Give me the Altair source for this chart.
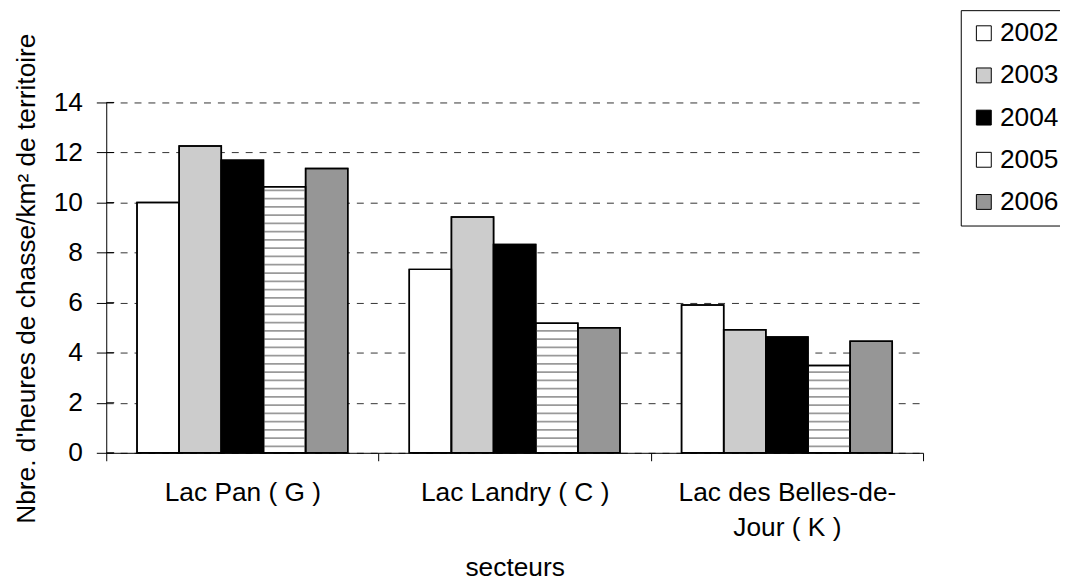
import altair as alt
import pandas as pd

categories = ["Lac Pan ( G )", "Lac Landry ( C )", "Lac des Belles-de-\nJour ( K )"]
years = ["2002", "2003", "2004", "2005", "2006"]
v2002 = [10.0, 7.33, 5.91]
v2003 = [12.26, 9.42, 4.92]
v2004 = [11.69, 8.32, 4.63]
v2005 = [10.63, 5.18, 3.49]
v2006 = [11.36, 5.0, 4.46]
y_ticks = [0, 2, 4, 6, 8, 10, 12, 14]
fills = ["#ffffff", "#cccccc", "#000000", "#ffffff", "#969696"]

series = [v2002, v2003, v2004, v2005, v2006]
rows = []
for yr, vals in zip(years, series):
    for c, v in zip(categories, vals):
        rows.append({"secteur": c, "annee": yr, "value": v})
df = pd.DataFrame(rows)
ticks_df = pd.DataFrame({"t": y_ticks})

FONT = "Liberation Sans"
FS = 26.5

x_enc = alt.X("secteur:N", sort=categories,
              scale=alt.Scale(paddingInner=0, paddingOuter=0),
              axis=alt.Axis(title="secteurs", tickBand="extent", tickSize=8,
                            labelPadding=19, labelLineHeight=35, labelLimit=0,
                            labelAngle=0, labelExpr="split(datum.label, '\\n')",
                            titleBaseline="alphabetic", titleY=124, grid=False))
xo_enc = alt.XOffset("annee:N", sort=years,
                     scale=alt.Scale(domain=years, paddingInner=0, paddingOuter=0.73))
y_enc = alt.Y("value:Q", scale=alt.Scale(domain=[0, 14], nice=False),
              axis=alt.Axis(values=y_ticks, title="Nbre. d'heures de chasse/km² de territoire",
                            tickSize=10, labelPadding=14, grid=True,
                            gridColor="#333333", gridDash=[7, 7], gridWidth=1,
                            titleBaseline="alphabetic", titleX=-72, titleY=177,
                            titleAngle=270, titleAlign="center"))

base = alt.Chart(df).mark_bar(stroke="black", strokeWidth=1.5).encode(
    x=x_enc, xOffset=xo_enc, y=y_enc,
    fill=alt.Fill("annee:N", sort=years,
                  scale=alt.Scale(domain=years, range=fills),
                  legend=alt.Legend(title=None, orient="none", legendX=861, legendY=-93,
                                    symbolType="square", symbolSize=225,
                                    symbolStrokeColor="black", symbolStrokeWidth=1,
                                    labelFontSize=FS, labelFont=FONT, labelOffset=3,
                                    rowPadding=15.5, padding=10,
                                    strokeColor="black", fillColor="white")),
)

stripes = alt.Chart(df).transform_filter(
    alt.datum.annee == "2005"
).transform_calculate(
    s="sequence(0.22, datum.value - 0.12, 0.33)"
).transform_flatten(["s"]).transform_calculate(
    s2="datum.s + 0.07"
).mark_bar(color="#9a9a9a").encode(
    x=alt.X("secteur:N", sort=categories), xOffset=alt.XOffset("annee:N", sort=years),
    y=alt.Y("s:Q"), y2="s2:Q",
)

outline = alt.Chart(df).mark_bar(stroke="black", strokeWidth=1.5, fillOpacity=0).encode(
    x=alt.X("secteur:N", sort=categories), xOffset=alt.XOffset("annee:N", sort=years),
    y=alt.Y("value:Q"),
)

inner_ticks = alt.Chart(ticks_df).mark_rule(color="black", strokeWidth=1).encode(
    y=alt.Y("t:Q"), x=alt.value(0), x2=alt.value(8),
)

chart = alt.layer(base, stripes, outline, inner_ticks).properties(
    width=823, height=353,
    autosize=alt.AutoSizeParams(type="none"),
    padding={"left": 99, "top": 101 - 8, "right": 138, "bottom": 575 - 93 - 353},
).configure_view(stroke=None).configure_axis(
    domainColor="black", tickColor="black", labelColor="black", titleColor="black",
    labelFont=FONT, titleFont=FONT, labelFontSize=FS, titleFontSize=FS,
    titleFontWeight="normal", domainWidth=1, tickWidth=1,
)

chart.save("out.html", embed_options={"renderer": "svg", "actions": False})
